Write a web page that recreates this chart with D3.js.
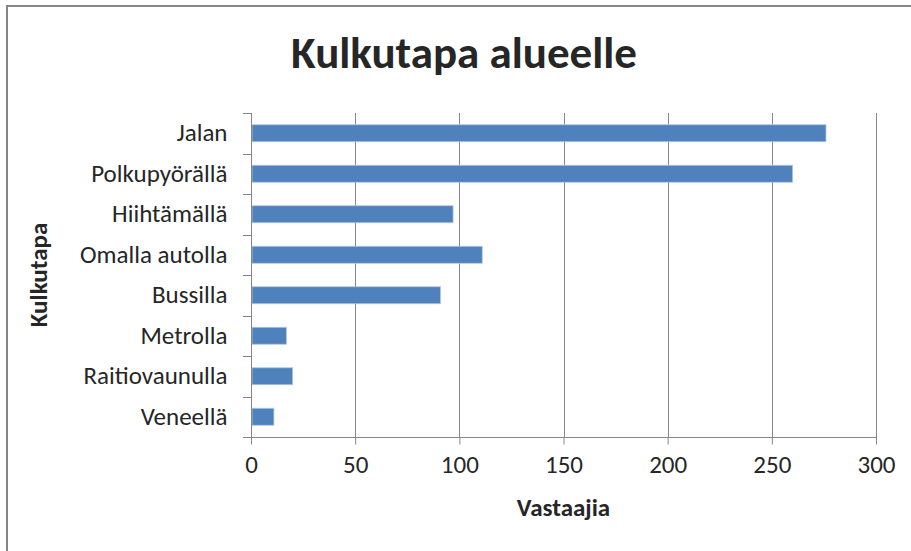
<!DOCTYPE html>
<html>
<head>
<meta charset="utf-8">
<script src="https://cdn.jsdelivr.net/npm/d3@7"></script>
<style>
  html, body { margin: 0; padding: 0; background: #fff; }
  svg { display: block; }
  text { font-family: Carlito, Calibri, Lato, "Open Sans", sans-serif; fill: #262626; }
</style>
</head>
<body>
<svg id="chart" width="911" height="551"></svg>
<script>
const categories = ["Jalan", "Polkupyörällä", "Hiihtämällä", "Omalla autolla", "Bussilla", "Metrolla", "Raitiovaunulla", "Veneellä"];
const values = [276, 260, 97, 111, 91, 17, 20, 11];
const xTicks = [0, 50, 100, 150, 200, 250, 300];
const title = "Kulkutapa alueelle";
const xTitle = "Vastaajia";
const yTitle = "Kulkutapa";

const svg = d3.select("#chart");
const W = 911, H = 551;
const m = { left: 251, right: 876, top: 113, bottom: 437 };
const gray = "#868686";
const labelSize = 25;

// outer frame (left and top edges visible)
svg.append("line").attr("x1", 7).attr("x2", 7).attr("y1", 6).attr("y2", H)
  .attr("stroke", gray).attr("stroke-width", 2);
svg.append("line").attr("x1", 6).attr("x2", W).attr("y1", 6).attr("y2", 6)
  .attr("stroke", gray).attr("stroke-width", 2);

const x = d3.scaleLinear().domain([0, 300]).range([m.left, m.right]);
const y = d3.scaleBand().domain(categories).range([m.top, m.bottom]).paddingInner(0.58).paddingOuter(0.29);
const yb = d3.scaleBand().domain(categories).range([m.top, m.bottom]);

// gridlines
svg.append("g").selectAll("line").data(xTicks.slice(1)).join("line")
  .attr("x1", d => Math.round(x(d)) + 0.5).attr("x2", d => Math.round(x(d)) + 0.5)
  .attr("y1", m.top).attr("y2", m.bottom)
  .attr("stroke", gray).attr("stroke-width", 1);

// bars
svg.append("g").selectAll("rect").data(categories).join("rect")
  .attr("x", x(0) + 1)
  .attr("y", (d) => y(d))
  .attr("width", (d, i) => x(values[i]) - x(0) - 1)
  .attr("height", y.bandwidth())
  .attr("fill", "#4f81bd")
  .attr("stroke", "#b3c8e3").attr("stroke-width", 0.8);

// x axis
const xAxis = d3.axisBottom(x).tickValues(xTicks).tickSize(7).tickPadding(11);
const gx = svg.append("g").attr("transform", `translate(0,${m.bottom + 0.5})`).call(xAxis);
gx.select(".domain").attr("stroke", gray).attr("d", `M${m.left - 8},0H${m.right + 1}`);
gx.selectAll(".tick line").attr("stroke", gray);
gx.selectAll(".tick text").attr("font-size", labelSize).attr("fill", "#262626")
  .style("font-family", "Carlito, Calibri, Lato, sans-serif");

// y axis
const yAxis = d3.axisLeft(yb).tickSize(0).tickPadding(24);
const gy = svg.append("g").attr("transform", `translate(${m.left + 0.5},0)`).call(yAxis);
gy.select(".domain").attr("stroke", gray).attr("d", `M0,${m.top}V${m.bottom + 7}`);
gy.selectAll(".tick text").attr("font-size", labelSize).attr("fill", "#262626")
  .style("font-family", "Carlito, Calibri, Lato, sans-serif");
// category boundary ticks
svg.append("g").selectAll("line").data(categories.concat(["__end"])).join("line")
  .attr("x1", m.left - 8).attr("x2", m.left)
  .attr("y1", (d, i) => Math.round(i < categories.length ? yb(d) : m.bottom) + 0.5)
  .attr("y2", (d, i) => Math.round(i < categories.length ? yb(d) : m.bottom) + 0.5)
  .attr("stroke", gray);

// title
svg.append("text").attr("x", 464).attr("y", 68).attr("text-anchor", "middle")
  .attr("font-size", 45).attr("font-weight", "bold").attr("fill", "#000").text(title);

// axis titles
svg.append("text").attr("x", (m.left + m.right) / 2).attr("y", 516).attr("text-anchor", "middle")
  .attr("font-size", labelSize).attr("font-weight", "bold").attr("fill", "#000").text(xTitle);
svg.append("text").attr("transform", `translate(47,${(m.top + m.bottom) / 2}) rotate(-90)`)
  .attr("text-anchor", "middle")
  .attr("font-size", labelSize).attr("font-weight", "bold").attr("fill", "#000").text(yTitle);
</script>
</body>
</html>
